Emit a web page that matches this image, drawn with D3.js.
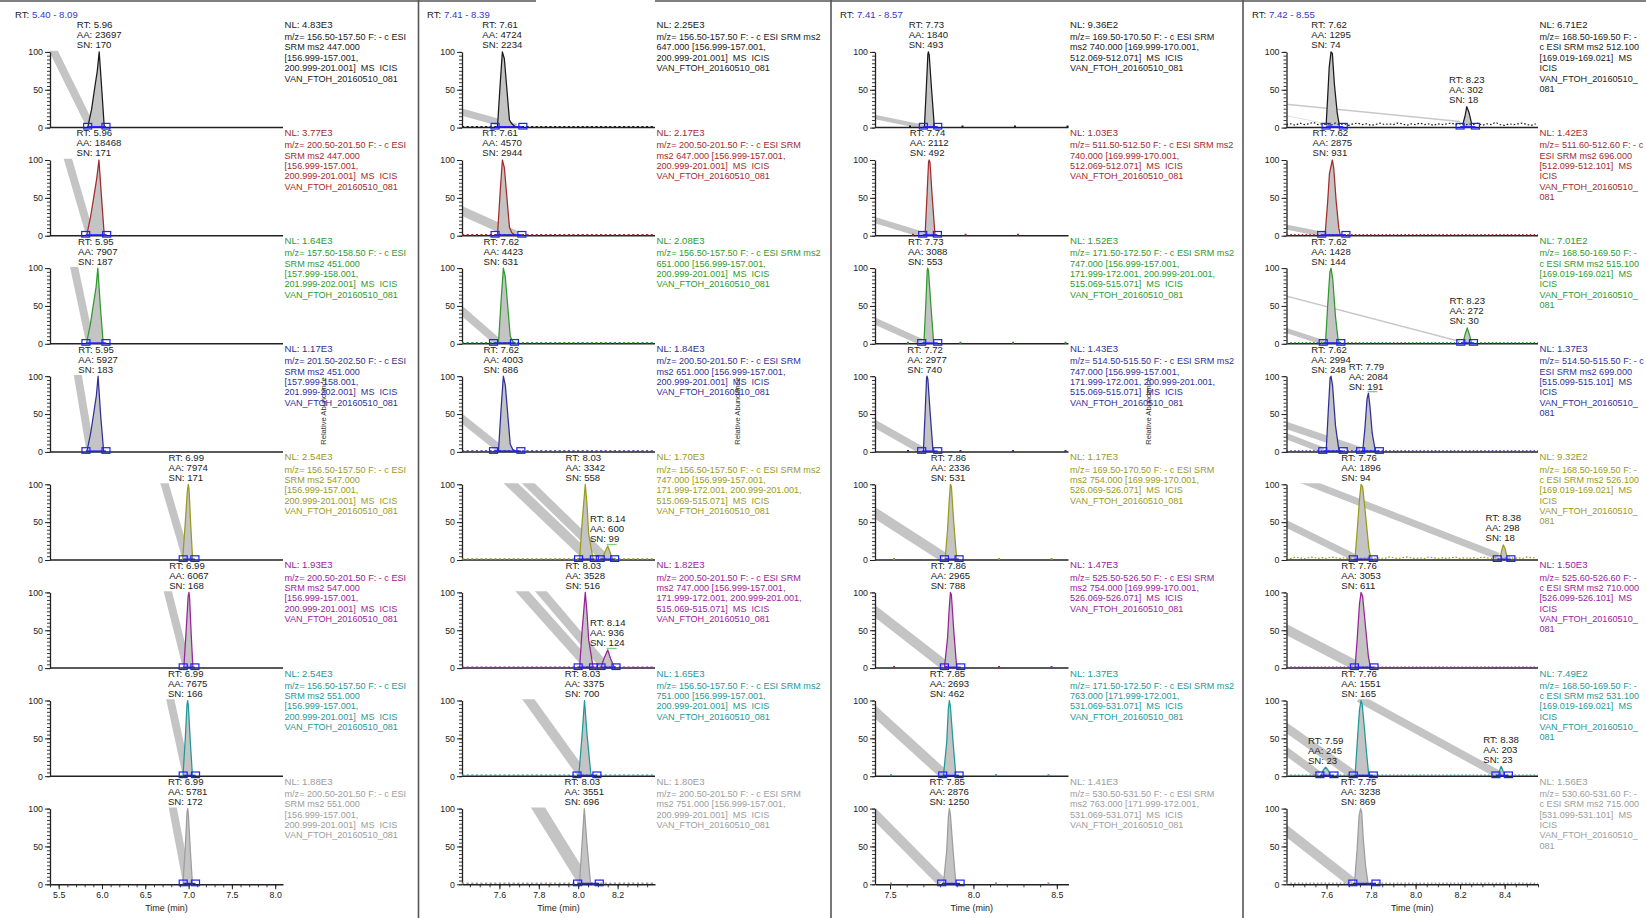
<!DOCTYPE html>
<html>
<head>
<meta charset="utf-8">
<script src="https://cdn.jsdelivr.net/npm/d3@7/dist/d3.min.js"></script>
<style>
html,body{margin:0;padding:0;background:#fff;}
svg{display:block;}
text{font-family:"Liberation Sans",Arial,Helvetica,sans-serif;white-space:pre;}
</style>
</head>
<body>
<svg id="chart" width="1646" height="918"></svg>
<script>
// ================= DATA =================
const rtRangeLabels = ["5.40 - 8.09", "7.41 - 8.39", "7.41 - 8.57", "7.42 - 8.55"];
const timeDomains = [[5.40, 8.09], [7.41, 8.39], [7.41, 8.57], [7.42, 8.55]];
const timeTicks = [[5.5, 6.0, 6.5, 7.0, 7.5, 8.0], [7.6, 7.8, 8.0, 8.2], [7.5, 8.0, 8.5], [7.6, 7.8, 8.0, 8.2, 8.4]];
const minorTimeStep = [0.1, 0.05, 0.1, 0.05];
const abundanceTicks = [0, 50, 100];
const xAxisTitle = "Time (min)";
const yAxisTitle = "Relative Abundance";

const nlLabels = [
  ["4.83E3", "3.77E3", "1.64E3", "1.17E3", "2.54E3", "1.93E3", "2.54E3", "1.88E3"],
  ["2.25E3", "2.17E3", "2.08E3", "1.84E3", "1.70E3", "1.82E3", "1.65E3", "1.80E3"],
  ["9.36E2", "1.03E3", "1.52E3", "1.43E3", "1.17E3", "1.47E3", "1.37E3", "1.41E3"],
  ["6.71E2", "1.42E3", "7.01E2", "1.37E3", "9.32E2", "1.50E3", "7.49E2", "1.56E3"]
];

const scanFilters = [
  [
    ["m/z= 156.50-157.50 F: - c ESI", "SRM ms2 447.000", "[156.999-157.001,", "200.999-201.001]  MS  ICIS", "VAN_FTOH_20160510_081"],
    ["m/z= 200.50-201.50 F: - c ESI", "SRM ms2 447.000", "[156.999-157.001,", "200.999-201.001]  MS  ICIS", "VAN_FTOH_20160510_081"],
    ["m/z= 157.50-158.50 F: - c ESI", "SRM ms2 451.000", "[157.999-158.001,", "201.999-202.001]  MS  ICIS", "VAN_FTOH_20160510_081"],
    ["m/z= 201.50-202.50 F: - c ESI", "SRM ms2 451.000", "[157.999-158.001,", "201.999-202.001]  MS  ICIS", "VAN_FTOH_20160510_081"],
    ["m/z= 156.50-157.50 F: - c ESI", "SRM ms2 547.000", "[156.999-157.001,", "200.999-201.001]  MS  ICIS", "VAN_FTOH_20160510_081"],
    ["m/z= 200.50-201.50 F: - c ESI", "SRM ms2 547.000", "[156.999-157.001,", "200.999-201.001]  MS  ICIS", "VAN_FTOH_20160510_081"],
    ["m/z= 156.50-157.50 F: - c ESI", "SRM ms2 551.000", "[156.999-157.001,", "200.999-201.001]  MS  ICIS", "VAN_FTOH_20160510_081"],
    ["m/z= 200.50-201.50 F: - c ESI", "SRM ms2 551.000", "[156.999-157.001,", "200.999-201.001]  MS  ICIS", "VAN_FTOH_20160510_081"]
  ],
  [
    ["m/z= 156.50-157.50 F: - c ESI SRM ms2", "647.000 [156.999-157.001,", "200.999-201.001]  MS  ICIS", "VAN_FTOH_20160510_081"],
    ["m/z= 200.50-201.50 F: - c ESI SRM", "ms2 647.000 [156.999-157.001,", "200.999-201.001]  MS  ICIS", "VAN_FTOH_20160510_081"],
    ["m/z= 156.50-157.50 F: - c ESI SRM ms2", "651.000 [156.999-157.001,", "200.999-201.001]  MS  ICIS", "VAN_FTOH_20160510_081"],
    ["m/z= 200.50-201.50 F: - c ESI SRM", "ms2 651.000 [156.999-157.001,", "200.999-201.001]  MS  ICIS", "VAN_FTOH_20160510_081"],
    ["m/z= 156.50-157.50 F: - c ESI SRM ms2", "747.000 [156.999-157.001,", "171.999-172.001, 200.999-201.001,", "515.069-515.071]  MS  ICIS", "VAN_FTOH_20160510_081"],
    ["m/z= 200.50-201.50 F: - c ESI SRM", "ms2 747.000 [156.999-157.001,", "171.999-172.001, 200.999-201.001,", "515.069-515.071]  MS  ICIS", "VAN_FTOH_20160510_081"],
    ["m/z= 156.50-157.50 F: - c ESI SRM ms2", "751.000 [156.999-157.001,", "200.999-201.001]  MS  ICIS", "VAN_FTOH_20160510_081"],
    ["m/z= 200.50-201.50 F: - c ESI SRM", "ms2 751.000 [156.999-157.001,", "200.999-201.001]  MS  ICIS", "VAN_FTOH_20160510_081"]
  ],
  [
    ["m/z= 169.50-170.50 F: - c ESI SRM", "ms2 740.000 [169.999-170.001,", "512.069-512.071]  MS  ICIS", "VAN_FTOH_20160510_081"],
    ["m/z= 511.50-512.50 F: - c ESI SRM ms2", "740.000 [169.999-170.001,", "512.069-512.071]  MS  ICIS", "VAN_FTOH_20160510_081"],
    ["m/z= 171.50-172.50 F: - c ESI SRM ms2", "747.000 [156.999-157.001,", "171.999-172.001, 200.999-201.001,", "515.069-515.071]  MS  ICIS", "VAN_FTOH_20160510_081"],
    ["m/z= 514.50-515.50 F: - c ESI SRM ms2", "747.000 [156.999-157.001,", "171.999-172.001, 200.999-201.001,", "515.069-515.071]  MS  ICIS", "VAN_FTOH_20160510_081"],
    ["m/z= 169.50-170.50 F: - c ESI SRM", "ms2 754.000 [169.999-170.001,", "526.069-526.071]  MS  ICIS", "VAN_FTOH_20160510_081"],
    ["m/z= 525.50-526.50 F: - c ESI SRM", "ms2 754.000 [169.999-170.001,", "526.069-526.071]  MS  ICIS", "VAN_FTOH_20160510_081"],
    ["m/z= 171.50-172.50 F: - c ESI SRM ms2", "763.000 [171.999-172.001,", "531.069-531.071]  MS  ICIS", "VAN_FTOH_20160510_081"],
    ["m/z= 530.50-531.50 F: - c ESI SRM", "ms2 763.000 [171.999-172.001,", "531.069-531.071]  MS  ICIS", "VAN_FTOH_20160510_081"]
  ],
  [
    ["m/z= 168.50-169.50 F: -", "c ESI SRM ms2 512.100", "[169.019-169.021]  MS", "ICIS", "VAN_FTOH_20160510_", "081"],
    ["m/z= 511.60-512.60 F: - c", "ESI SRM ms2 696.000", "[512.099-512.101]  MS", "ICIS", "VAN_FTOH_20160510_", "081"],
    ["m/z= 168.50-169.50 F: -", "c ESI SRM ms2 515.100", "[169.019-169.021]  MS", "ICIS", "VAN_FTOH_20160510_", "081"],
    ["m/z= 514.50-515.50 F: - c", "ESI SRM ms2 699.000", "[515.099-515.101]  MS", "ICIS", "VAN_FTOH_20160510_", "081"],
    ["m/z= 168.50-169.50 F: -", "c ESI SRM ms2 526.100", "[169.019-169.021]  MS", "ICIS", "VAN_FTOH_20160510_", "081"],
    ["m/z= 525.60-526.60 F: -", "c ESI SRM ms2 710.000", "[526.099-526.101]  MS", "ICIS", "VAN_FTOH_20160510_", "081"],
    ["m/z= 168.50-169.50 F: -", "c ESI SRM ms2 531.100", "[169.019-169.021]  MS", "ICIS", "VAN_FTOH_20160510_", "081"],
    ["m/z= 530.60-531.60 F: -", "c ESI SRM ms2 715.000", "[531.099-531.101]  MS", "ICIS", "VAN_FTOH_20160510_", "081"]
  ]
];

// peak labels: retention time, area, signal/noise, apex time, apex relative abundance
const peakLabels = [
  [
    [{rt: "5.96", aa: "23697", sn: "170", t: 5.968, v: 100}],
    [{rt: "5.96", aa: "18468", sn: "171", t: 5.965, v: 100}],
    [{rt: "5.95", aa: "7907", sn: "187", t: 5.952, v: 100}],
    [{rt: "5.95", aa: "5927", sn: "183", t: 5.955, v: 100}],
    [{rt: "6.99", aa: "7974", sn: "171", t: 6.996, v: 100}],
    [{rt: "6.99", aa: "6067", sn: "168", t: 7.004, v: 100}],
    [{rt: "6.99", aa: "7675", sn: "166", t: 6.99, v: 100}],
    [{rt: "6.99", aa: "5781", sn: "172", t: 6.99, v: 100}]
  ],
  [
    [{rt: "7.61", aa: "4724", sn: "2234", t: 7.615, v: 100}],
    [{rt: "7.61", aa: "4570", sn: "2944", t: 7.615, v: 100}],
    [{rt: "7.62", aa: "4423", sn: "631", t: 7.62, v: 100}],
    [{rt: "7.62", aa: "4003", sn: "686", t: 7.62, v: 100}],
    [{rt: "8.03", aa: "3342", sn: "558", t: 8.036, v: 100}, {rt: "8.14", aa: "600", sn: "99", t: 8.15, v: 18.5, mark: true}],
    [{rt: "8.03", aa: "3528", sn: "516", t: 8.036, v: 100}, {rt: "8.14", aa: "936", sn: "124", t: 8.15, v: 24, mark: true}],
    [{rt: "8.03", aa: "3375", sn: "700", t: 8.032, v: 100}],
    [{rt: "8.03", aa: "3551", sn: "696", t: 8.031, v: 100}]
  ],
  [
    [{rt: "7.73", aa: "1840", sn: "493", t: 7.73, v: 100}],
    [{rt: "7.74", aa: "2112", sn: "492", t: 7.735, v: 100}],
    [{rt: "7.73", aa: "3088", sn: "553", t: 7.726, v: 100}],
    [{rt: "7.72", aa: "2977", sn: "740", t: 7.722, v: 100}],
    [{rt: "7.86", aa: "2336", sn: "531", t: 7.862, v: 100}],
    [{rt: "7.86", aa: "2965", sn: "788", t: 7.862, v: 100}],
    [{rt: "7.85", aa: "2693", sn: "462", t: 7.856, v: 100}],
    [{rt: "7.85", aa: "2876", sn: "1250", t: 7.856, v: 100}]
  ],
  [
    [{rt: "7.62", aa: "1295", sn: "74", t: 7.62, v: 100}, {rt: "8.23", aa: "302", sn: "18", t: 8.23, v: 27.6}],
    [{rt: "7.62", aa: "2875", sn: "931", t: 7.626, v: 100}],
    [{rt: "7.62", aa: "1428", sn: "144", t: 7.62, v: 100}, {rt: "8.23", aa: "272", sn: "30", t: 8.232, v: 21}],
    [{rt: "7.62", aa: "2994", sn: "248", t: 7.62, v: 100}, {rt: "7.79", aa: "2084", sn: "191", t: 7.788, v: 77.6, mark: true}],
    [{rt: "7.76", aa: "1896", sn: "94", t: 7.755, v: 100}, {rt: "8.38", aa: "298", sn: "18", t: 8.394, v: 20}],
    [{rt: "7.76", aa: "3053", sn: "611", t: 7.755, v: 100}],
    [{rt: "7.59", aa: "245", sn: "23", t: 7.596, v: 12}, {rt: "7.76", aa: "1551", sn: "165", t: 7.755, v: 100}, {rt: "8.38", aa: "203", sn: "23", t: 8.384, v: 13}],
    [{rt: "7.75", aa: "3238", sn: "869", t: 7.753, v: 100}]
  ]
];

// chromatogram peak traces [time, relative abundance]
const peakTraces = [
  [
    [[[5.835,0],[5.88,24],[5.918,54],[5.945,74],[5.968,100],[5.998,50],[6.027,0]]],
    [[[5.823,0],[5.87,26],[5.911,55],[5.94,76],[5.965,100],[5.995,50],[6.027,0]]],
    [[[5.82,0],[5.865,25],[5.905,55],[5.932,75],[5.952,100],[5.982,48],[6.015,0]]],
    [[[5.825,0],[5.87,25],[5.91,55],[5.936,75],[5.955,100],[5.985,48],[6.02,0]]],
    [[[6.931,0],[6.961,48],[6.985,90],[6.996,100],[7.005,94],[7.024,48],[7.047,0]]],
    [[[6.945,0],[6.972,50],[6.995,95],[7.004,100],[7.012,92],[7.03,45],[7.05,0]]],
    [[[6.935,0],[6.962,50],[6.982,95],[6.99,100],[6.998,92],[7.02,45],[7.045,0]]],
    [[[6.935,0],[6.962,50],[6.982,95],[6.99,100],[6.998,92],[7.02,45],[7.045,0]]]
  ],
  [
    [[[7.59,0],[7.603,54],[7.615,100],[7.625,91],[7.651,10],[7.663,5],[7.685,0]]],
    [[[7.59,0],[7.603,54],[7.615,100],[7.625,90],[7.651,11],[7.663,4],[7.685,0]]],
    [[[7.595,0],[7.608,55],[7.62,100],[7.63,88],[7.655,10],[7.668,3],[7.69,0]]],
    [[[7.595,0],[7.608,55],[7.62,100],[7.63,88],[7.655,10],[7.668,3],[7.69,0]]],
    [[[8.007,0],[8.02,50],[8.036,100],[8.045,72],[8.053,35],[8.075,2],[8.09,0]], [[8.121,0],[8.135,10],[8.15,18.5],[8.165,8],[8.177,0]]],
    [[[8.007,0],[8.02,50],[8.036,100],[8.045,72],[8.053,38],[8.075,2],[8.09,0]], [[8.115,0],[8.13,12],[8.15,24],[8.165,12],[8.185,0]]],
    [[[8.003,0],[8.02,55],[8.032,100],[8.045,55],[8.064,3],[8.08,0]]],
    [[[8.006,0],[8.02,55],[8.031,100],[8.044,55],[8.062,3],[8.078,0]]]
  ],
  [
    [[[7.706,0],[7.718,54],[7.727,97],[7.73,100],[7.735,96],[7.748,54],[7.766,0]]],
    [[[7.71,0],[7.722,54],[7.731,97],[7.735,100],[7.74,96],[7.752,54],[7.77,0]]],
    [[[7.703,0],[7.715,54],[7.723,97],[7.726,100],[7.731,96],[7.744,54],[7.762,0]]],
    [[[7.70,0],[7.711,54],[7.719,97],[7.722,100],[7.727,96],[7.74,54],[7.758,0]]],
    [[[7.83,0],[7.845,40],[7.855,79],[7.862,100],[7.868,97],[7.882,50],[7.90,0]]],
    [[[7.826,0],[7.845,40],[7.855,79],[7.862,100],[7.868,97],[7.882,50],[7.90,0]]],
    [[[7.82,0],[7.84,45],[7.85,90],[7.856,100],[7.862,92],[7.878,45],[7.895,0]]],
    [[[7.82,0],[7.84,45],[7.85,90],[7.856,100],[7.862,92],[7.878,45],[7.895,0]]]
  ],
  [
    [[[7.598,3],[7.605,40],[7.612,80],[7.62,100],[7.626,98],[7.635,58],[7.648,19],[7.657,4]], [[8.212,4],[8.222,15],[8.23,27.6],[8.24,20],[8.252,5]]],
    [[[7.593,0],[7.605,45],[7.613,82],[7.626,100],[7.632,90],[7.643,46],[7.655,10],[7.662,0]]],
    [[[7.595,0],[7.605,50],[7.615,95],[7.62,100],[7.628,85],[7.64,36],[7.652,5],[7.66,0]], [[8.212,0],[8.222,12],[8.232,21],[8.242,12],[8.252,0]]],
    [[[7.598,0],[7.607,50],[7.616,98],[7.62,100],[7.627,88],[7.64,35],[7.655,3],[7.66,0]], [[7.762,0],[7.772,30],[7.782,70],[7.788,77.6],[7.795,60],[7.805,25],[7.818,3],[7.822,0]]],
    [[[7.728,3],[7.738,40],[7.748,80],[7.755,100],[7.762,97],[7.77,75],[7.78,45],[7.79,15],[7.798,3]], [[8.38,3],[8.388,14],[8.394,20],[8.402,15],[8.412,3]]],
    [[[7.728,0],[7.738,40],[7.748,85],[7.755,100],[7.762,95],[7.775,55],[7.788,15],[7.798,0]]],
    [[[7.575,0],[7.585,8],[7.596,12],[7.607,8],[7.618,0]], [[7.728,0],[7.738,45],[7.748,88],[7.755,100],[7.76,95],[7.768,70],[7.78,30],[7.79,0]], [[8.37,0],[8.378,8],[8.384,13],[8.392,8],[8.40,0]]],
    [[[7.725,0],[7.737,45],[7.746,90],[7.753,100],[7.758,95],[7.765,60],[7.775,25],[7.787,0]]]
  ]
];

// integration boundaries (start, end) in minutes
const integrationMarkers = [
  [[[5.835,6.046]], [[5.812,6.054]], [[5.815,6.046]], [[5.815,6.046]], [[6.938,7.073]], [[6.938,7.073]], [[6.938,7.08]], [[6.938,7.08]]],
  [[[7.578,7.719]], [[7.578,7.714]], [[7.57,7.676]], [[7.57,7.709]], [[8.002,8.082],[8.112,8.185]], [[8.0,8.078],[8.116,8.192]], [[7.994,8.095]], [[7.997,8.107]]],
  [[[7.70,7.786]], [[7.696,7.784]], [[7.69,7.786]], [[7.69,7.786]], [[7.826,7.914]], [[7.826,7.924]], [[7.816,7.914]], [[7.81,7.92]]],
  [[[7.598,7.675],[8.2,8.269]], [[7.578,7.687]], [[7.585,7.664],[8.203,8.26]], [[7.583,7.675],[7.753,7.837]], [[7.72,7.81],[8.367,8.428]], [[7.725,7.813]], [[7.57,7.633],[7.72,7.81],[8.361,8.417]], [[7.718,7.822]]]
];

// gray smear bands: [t1, v1, t2, v2]
const smearBands = [
  [[[5.42,106,5.85,6]], [[5.595,106,5.85,6]], [[5.67,106,5.855,6]], [[5.715,106,5.86,6]], [[6.71,106,6.965,6]], [[6.75,106,6.97,6]], [[6.78,106,6.97,6]], [[6.81,106,6.975,6]]],
  [[[7.39,22,7.685,0.5]], [[7.39,35,7.685,0.5]], [[7.39,48,7.60,0.5]], [[7.39,48,7.62,0.5]], [[7.639,106,8.05,4],[7.728,106,8.13,4]], [[7.70,106,8.05,4],[7.796,106,8.13,4]], [[7.735,106,8.02,3]], [[7.785,106,8.03,3]]],
  [[[7.39,15,7.70,1]], [[7.39,22,7.70,1]], [[7.39,32,7.69,2]], [[7.39,39.5,7.69,2]], [[7.39,65,7.82,4]], [[7.39,78.5,7.825,4]], [[7.39,89,7.82,3]], [[7.39,96.5,7.81,3]]],
  [[], [[7.40,12.6,7.593,1.3]], [[7.40,19.4,7.593,1]], [[7.40,37,7.75,2],[7.40,23,7.585,2]], [[7.487,106,8.372,5],[7.40,50.5,7.72,4]], [[7.40,54,7.735,3]], [[7.745,103,8.375,2],[7.40,68,7.72,2],[7.40,37,7.563,2]], [[7.40,75,7.713,3]]]
];
const smearBandWidths = [
  [[8],[8],[8],[8],[8],[8],[8],[8]],
  [[7],[9],[8],[8],[10,9],[10,9],[10],[12]],
  [[4.5],[6],[6.5],[7.5],[10],[10],[10],[10]],
  [[],[5],[5],[7,6],[7,7],[10],[8,9,8],[10]]
];
// thin connector lines [t1, v1, t2, v2]
const connectorLines = [
  [[],[],[],[],[],[],[],[]],
  [[],[],[],[],[],[],[],[]],
  [[],[],[],[],[],[],[],[]],
  [[[7.40,31.3,8.2,8],[7.40,17,7.60,5]], [], [[7.40,64.5,8.2,3]], [], [], [], [], []]
];

// noisy baselines (column 4, rows 1 and 5), sampled every 0.02 min from 7.42
const noiseStart = 7.42, noiseStep = 0.02;
const noiseRow1 = [4,5,3,6,4,5,7,4,5,4,3,6,4,5,3,5,6,4,5,3,4,6,4,5,4,6,5,3,5,4,6,4,5,3,5,4,5,6,4,5,3,5,4,6,3,5,4,7,4,3,5,4,5,6,4,3,5];
const noiseRow5 = [3,2,4,3,2,3,4,2,3,2,4,3,2,3,2,4,3,2,3,4,2,3,2,4,3,2,3,4,3,2,3,2,4,3,2,3,2,3,4,2,3,2,3,2,4,3,2,3,2,3,4,2,3,2,4,3,3];

// ================= STYLE / LAYOUT =================
const seriesColors = ["#1a1a1a", "#a52a2a", "#2e9a2e", "#2f2f99", "#9a9a1e", "#992299", "#1f9898", "#9d9d9d"];
const W = 1646, H = 918;
const ROW0 = 127.6, PITCH = 108.1, PH = 75.7;
const colX0 = [50, 462, 875, 1286.5];
const colX1 = [283, 655, 1068.5, 1538];
const headerX = [15, 427, 840, 1252];
const relAbundX = [323, 737, 1148, null];
const baselineDash = [null, "2.2,2.4", "2,50.5", "1.6,2.2"];
const col3Phase = [34, 37, 32, 32, 18, 18, 15, 15];
const BAND = "#c4c4c4", BLUE = "#2020ff", AXIS = "#222";
const FONT = "'Liberation Sans', Arial, Helvetica, sans-serif";
const fAnn = 9.6, fDesc = 9.1, fAxis = 8.8;

// ================= DRAW =================
const svg = d3.select("#chart");
svg.append("rect").attr("width", W).attr("height", H).attr("fill", "#fff");

// frame lines
const frame = svg.append("g").attr("stroke", "#555").attr("stroke-width", 1.6);
frame.append("line").attr("x1", 0).attr("x2", 536).attr("y1", 1).attr("y2", 1);
frame.append("line").attr("x1", 655).attr("x2", W).attr("y1", 1).attr("y2", 1);
[418.5, 831, 1243].forEach(xv => frame.append("line").attr("x1", xv).attr("x2", xv).attr("y1", 0).attr("y2", H));

timeDomains.forEach((dom, c) => {
  const x = d3.scaleLinear().domain(dom).range([colX0[c], colX1[c]]);
  const g = svg.append("g");

  const ht = g.append("text").attr("x", headerX[c]).attr("y", 17.5).attr("font-size", fAnn);
  ht.append("tspan").attr("fill", "#222").text("RT: ");
  ht.append("tspan").attr("fill", "#3636c4").text(rtRangeLabels[c]);

  if (relAbundX[c] !== null) {
    g.append("text").attr("transform", `translate(${relAbundX[c] + 3},411) rotate(-90)`)
      .attr("text-anchor", "middle").attr("font-size", 7.6).attr("fill", "#333").text(yAxisTitle);
  }

  for (let r = 0; r < 8; r++) {
    const base = ROW0 + r * PITCH;
    const y = d3.scaleLinear().domain([0, 100]).range([base, base - PH]);
    const color = seriesColors[r];
    const pg = g.append("g");
    const clipId = `clip-${c}-${r}`;
    pg.append("clipPath").attr("id", clipId).append("rect")
      .attr("x", colX0[c]).attr("y", y(101.5)).attr("width", colX1[c] - colX0[c]).attr("height", y(0) - y(101.5));
    const cg = pg.append("g").attr("clip-path", `url(#${clipId})`);

    const area = d3.area().x(d => x(d[0])).y0(y(0)).y1(d => y(d[1]));
    peakTraces[c][r].forEach(pk => cg.append("path").attr("d", area(pk)).attr("fill", BAND));

    smearBands[c][r].forEach((b, i) => {
      cg.append("line").attr("x1", x(b[0])).attr("y1", y(b[1])).attr("x2", x(b[2])).attr("y2", y(b[3]))
        .attr("stroke", BAND).attr("stroke-width", smearBandWidths[c][r][i]).attr("stroke-linecap", "butt");
    });
    connectorLines[c][r].forEach((b, i) => {
      cg.append("line").attr("x1", x(b[0])).attr("y1", y(b[1])).attr("x2", x(b[2])).attr("y2", y(b[3]))
        .attr("stroke", i === 0 ? "#c8c8c8" : "#e0e0e0").attr("stroke-width", i === 0 ? 1.4 : 1);
    });

    // y axis
    const yMinor = d3.axisLeft(y).tickValues(d3.range(0, 101, 5)).tickSize(3).tickFormat("").tickSizeOuter(0);
    const ym = pg.append("g").attr("transform", `translate(${colX0[c]},0)`).call(yMinor);
    ym.select(".domain").remove();
    ym.selectAll(".tick line").attr("stroke", AXIS).attr("stroke-width", 0.9);
    const yAxis = d3.axisLeft(y).tickValues(abundanceTicks).tickSize(5).tickSizeOuter(0).tickPadding(2);
    const yg = pg.append("g").attr("transform", `translate(${colX0[c]},0)`).call(yAxis);
    yg.attr("font-family", FONT).attr("font-size", fAxis);
    yg.select(".domain").attr("stroke", AXIS).attr("stroke-width", 1.3);
    yg.selectAll(".tick line").attr("stroke", AXIS).attr("stroke-width", 1);
    yg.selectAll(".tick text").attr("fill", "#222");

    // x axis / baseline
    if (r === 7) {
      const xMinor = d3.axisBottom(x).tickValues(d3.range(Math.ceil(dom[0] / minorTimeStep[c]) * minorTimeStep[c], dom[1] + 1e-9, minorTimeStep[c])).tickSize(3).tickFormat("").tickSizeOuter(0);
      const xm = pg.append("g").attr("transform", `translate(0,${y(0)})`).call(xMinor);
      xm.select(".domain").remove();
      xm.selectAll(".tick line").attr("stroke", AXIS).attr("stroke-width", 0.9);
      const xAxis = d3.axisBottom(x).tickValues(timeTicks[c]).tickFormat(d3.format(".1f")).tickSize(5).tickSizeOuter(0).tickPadding(2);
      const xg = pg.append("g").attr("transform", `translate(0,${y(0)})`).call(xAxis);
      xg.attr("font-family", FONT).attr("font-size", fAxis);
      xg.select(".domain").attr("stroke", AXIS).attr("stroke-width", 1.5);
      xg.selectAll(".tick line").attr("stroke", AXIS).attr("stroke-width", 1);
      xg.selectAll(".tick text").attr("fill", "#222");
      pg.append("text").attr("x", (colX0[c] + colX1[c]) / 2).attr("y", y(0) + 27).attr("text-anchor", "middle")
        .attr("font-size", 9).attr("fill", "#222").text(xAxisTitle);
    } else {
      pg.append("line").attr("x1", colX0[c]).attr("x2", colX1[c]).attr("y1", y(0)).attr("y2", y(0))
        .attr("stroke", AXIS).attr("stroke-width", 1.5);
    }

    // baseline trace
    const line = d3.line().x(d => x(d[0])).y(d => y(d[1]));
    let noise = null;
    if (c === 3 && r === 0) noise = noiseRow1;
    if (c === 3 && r === 4) noise = noiseRow5;
    if (noise) {
      const pts = noise.map((v, i) => [noiseStart + i * noiseStep, v]).filter(d => d[0] <= dom[1] + 1e-9);
      pg.append("path").attr("d", line(pts)).attr("fill", "none").attr("stroke", color)
        .attr("stroke-width", 1.2).attr("stroke-dasharray", "1.6,2");
    } else if (baselineDash[c]) {
      const bl = pg.append("line").attr("x1", colX0[c]).attr("x2", colX1[c]).attr("y1", y(0) - 1).attr("y2", y(0) - 1)
        .attr("stroke", color).attr("stroke-width", 1.4).attr("stroke-dasharray", baselineDash[c]);
      if (c === 2) bl.attr("stroke-dashoffset", 52.5 - col3Phase[r]).attr("stroke-width", 2);
    }

    // peaks
    peakTraces[c][r].forEach(pk => {
      pg.append("path").attr("d", line(pk)).attr("fill", "none").attr("stroke", color)
        .attr("stroke-width", 1.25).attr("stroke-linejoin", "round");
    });

    // integration markers
    integrationMarkers[c][r].forEach(pair => {
      pg.append("line").attr("x1", x(pair[0])).attr("x2", x(pair[1])).attr("y1", y(0) - 0.7).attr("y2", y(0) - 0.7)
        .attr("stroke", BLUE).attr("stroke-width", 1.6);
      pair.forEach(t => {
        pg.append("rect").attr("x", x(t) - 4).attr("y", y(0) - 4.2).attr("width", 8).attr("height", 5.6)
          .attr("fill", "none").attr("stroke", BLUE).attr("stroke-width", 1.2);
      });
    });

    // peak labels
    peakLabels[c][r].forEach(lb => {
      const ax = x(lb.t), ay = y(lb.v);
      const lines = [`RT: ${lb.rt}`, `AA: ${lb.aa}`, `SN: ${lb.sn}`];
      const tg = pg.append("g").attr("font-size", fAnn).attr("fill", "#222");
      const texts = lines.map((s, i) => tg.append("text").attr("y", ay - 27 + i * 10 + 3.4).text(s));
      const wmax = d3.max(texts, t => t.node().getComputedTextLength());
      texts.forEach(t => t.attr("x", ax - wmax / 2));
      if (lb.mark) {
        pg.append("line").attr("x1", ax - 1).attr("x2", ax + 9).attr("y1", ay - 1.5).attr("y2", ay - 1.5)
          .attr("stroke", "#7ccf7c").attr("stroke-width", 1.3);
      }
    });

    // right-hand description
    const top = base - PITCH;
    const tx = colX1[c] + 1.5;
    const dg = pg.append("g").attr("fill", color);
    dg.append("text").attr("x", tx).attr("y", top + 5 + 3.4).attr("font-size", fAnn).text(`NL: ${nlLabels[c][r]}`);
    scanFilters[c][r].forEach((s, i) => {
      dg.append("text").attr("x", tx).attr("y", top + 17.3 + i * 10.35 + 3.3).attr("font-size", fDesc).text(s);
    });
  }
});
</script>
</body>
</html>
